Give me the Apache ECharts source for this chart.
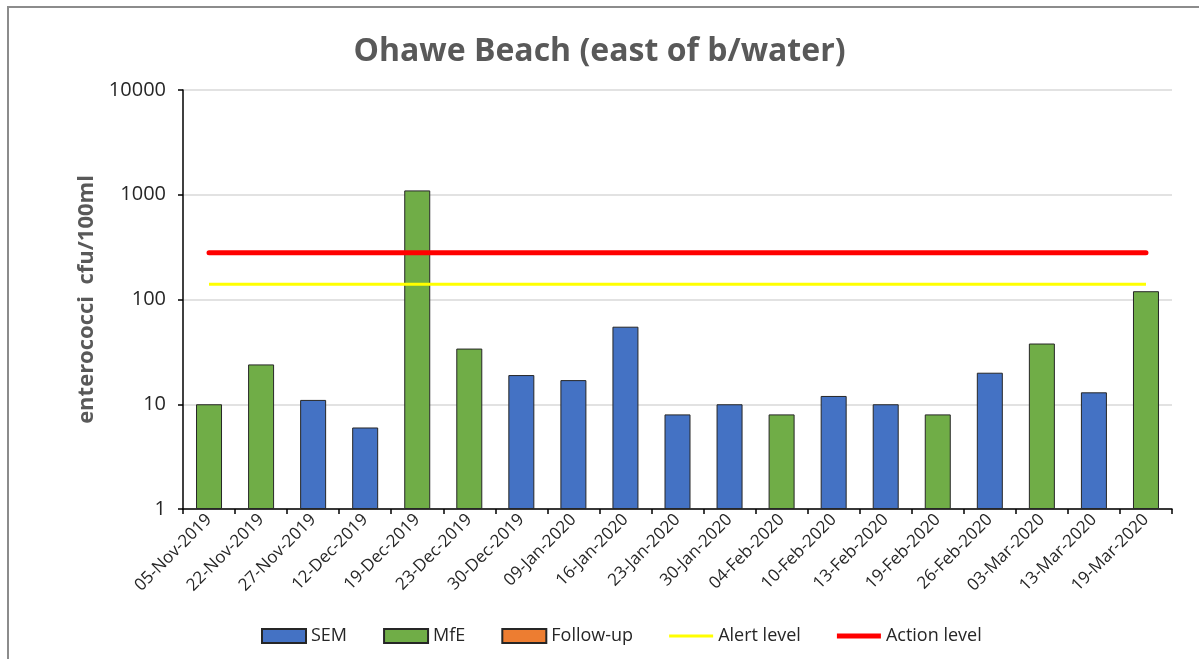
<!DOCTYPE html>
<html>
<head>
<meta charset="utf-8">
<script src="https://cdn.jsdelivr.net/npm/echarts@6/dist/echarts.min.js"></script>
<style>
  html, body { margin: 0; padding: 0; background: #ffffff; }
  #chart { width: 1199px; height: 659px; }
</style>
</head>
<body>
<div id="chart"></div>
<script>
// Sampling dates
const categories = [
  '05-Nov-2019', '22-Nov-2019', '27-Nov-2019', '12-Dec-2019', '19-Dec-2019',
  '23-Dec-2019', '30-Dec-2019', '09-Jan-2020', '16-Jan-2020', '23-Jan-2020',
  '30-Jan-2020', '04-Feb-2020', '10-Feb-2020', '13-Feb-2020', '19-Feb-2020',
  '26-Feb-2020', '03-Mar-2020', '13-Mar-2020', '19-Mar-2020'
];

// Enterococci counts (cfu/100ml); null where the sample belongs to another programme
const semValues = [
  null, null, 11, 6, null,
  null, 19, 17, 55, 8,
  10, null, 12, 10, null,
  20, null, 13, null
];
const mfeValues = [
  10, 24, null, null, 1100,
  34, null, null, null, null,
  null, 8, null, null, 8,
  null, 38, null, 120
];
const followUpValues = [
  null, null, null, null, null,
  null, null, null, null, null,
  null, null, null, null, null,
  null, null, null, null
];

// Guideline thresholds
const ALERT_LEVEL = 140;
const ACTION_LEVEL = 280;

// Y axis tick labels (log scale)
const yTicks = [1, 10, 100, 1000, 10000];

const FONT = '"Open Sans", "Liberation Sans", sans-serif';

const chart = echarts.init(document.getElementById('chart'));

const barBorder = { borderColor: '#262626', borderWidth: 1 };

chart.setOption({
  animation: false,
  backgroundColor: '#ffffff',
  graphic: [{
    type: 'rect',
    shape: { x: 8, y: 7, width: 1400, height: 900 },
    style: { fill: 'none', stroke: '#8c8c8c', lineWidth: 2 },
    silent: true
  }],
  title: {
    text: 'Ohawe Beach (east of b/water)',
    left: 'center',
    top: 31,
    textStyle: { fontFamily: FONT, fontWeight: 'bold', fontSize: 32, color: '#595959' }
  },
  legend: {
    left: 256,
    top: 622,
    itemWidth: 44,
    itemHeight: 14,
    itemGap: 36,
    symbolKeepAspect: true,
    textStyle: { fontFamily: FONT, fontSize: 18, color: '#262626' },
    data: [
      { name: 'SEM', icon: 'rect' },
      { name: 'MfE', icon: 'rect' },
      { name: 'Follow-up', icon: 'rect' },
      { name: 'Alert level', icon: 'path://M0,0H44V3H0Z' },
      { name: 'Action level', icon: 'path://M0,0H44V5H0Z' }
    ]
  },
  grid: { left: 183, right: 27, top: 90, bottom: 150, containLabel: false },
  xAxis: {
    type: 'category',
    data: categories,
    boundaryGap: true,
    axisLine: { lineStyle: { color: '#000000', width: 1.5 } },
    axisTick: { show: true, length: 5, lineStyle: { color: '#000000', width: 1.5 } },
    axisLabel: {
      rotate: 45,
      interval: 0,
      margin: 8,
      fontFamily: FONT,
      fontSize: 17,
      color: '#262626'
    },
    splitLine: { show: false }
  },
  yAxis: {
    type: 'log',
    logBase: 10,
    min: yTicks[0],
    max: yTicks[yTicks.length - 1],
    name: 'enterococci  cfu/100ml',
    nameLocation: 'middle',
    nameGap: 82,
    nameTextStyle: { fontFamily: FONT, fontWeight: 'bold', fontSize: 22, color: '#595959' },
    axisLine: { show: true, lineStyle: { color: '#000000', width: 1.5 } },
    axisTick: { show: true, length: 5, lineStyle: { color: '#000000', width: 1.5 } },
    axisLabel: {
      margin: 17,
      fontFamily: FONT,
      fontSize: 20,
      color: '#262626',
      formatter: v => String(Math.round(v))
    },
    splitLine: { show: true, lineStyle: { color: '#d9d9d9', width: 1.5 } },
    minorTick: { show: false }
  },
  series: [
    {
      name: 'SEM',
      type: 'bar',
      data: semValues,
      barWidth: 26,
      barGap: '-100%',
      itemStyle: Object.assign({ color: '#4472c4' }, barBorder)
    },
    {
      name: 'MfE',
      type: 'bar',
      data: mfeValues,
      barWidth: 26,
      barGap: '-100%',
      itemStyle: Object.assign({ color: '#70ad47' }, barBorder)
    },
    {
      name: 'Follow-up',
      type: 'bar',
      data: followUpValues,
      barWidth: 26,
      barGap: '-100%',
      itemStyle: Object.assign({ color: '#ed7d31' }, barBorder)
    },
    {
      name: 'Alert level',
      type: 'line',
      data: categories.map(() => ALERT_LEVEL),
      symbol: 'none',
      lineStyle: { color: '#ffff00', width: 3 },
      itemStyle: { color: '#ffff00' },
      z: 3
    },
    {
      name: 'Action level',
      type: 'line',
      data: categories.map(() => ACTION_LEVEL),
      symbol: 'none',
      lineStyle: { color: '#ff0000', width: 5, cap: 'round' },
      itemStyle: { color: '#ff0000' },
      z: 4
    }
  ]
});
</script>
</body>
</html>
